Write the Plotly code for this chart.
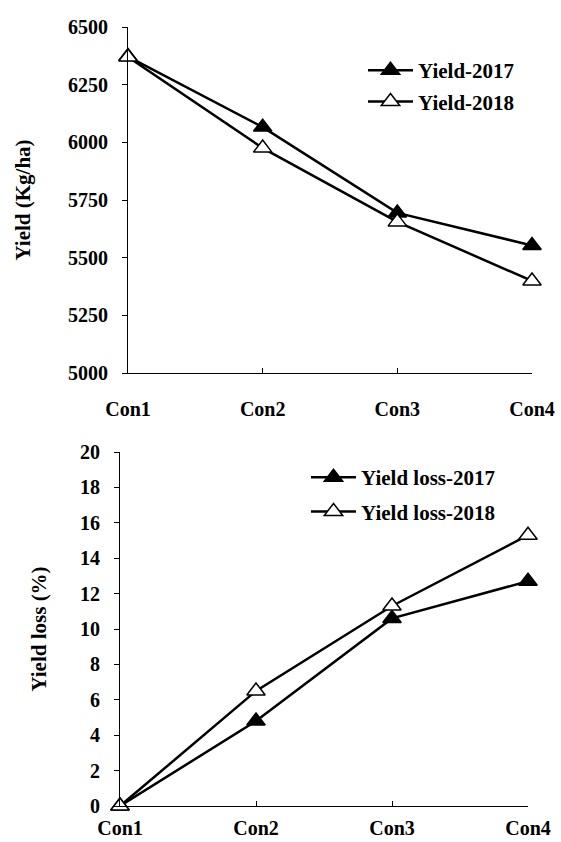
import plotly.graph_objects as go

categories = ["Con1", "Con2", "Con3", "Con4"]
yield_2017 = [6372, 6066, 5694, 5553]
yield_2018 = [6370, 5975, 5655, 5399]
loss_2017 = [0, 4.8, 10.6, 12.7]
loss_2018 = [0, 6.5, 11.3, 15.3]
yield_ticks = [5000, 5250, 5500, 5750, 6000, 6250, 6500]
loss_ticks = [0, 2, 4, 6, 8, 10, 12, 14, 16, 18, 20]

FONT = "Liberation Serif"
fig = go.Figure()

def add(x, y, name, filled, xa, ya, leg):
    fig.add_trace(go.Scatter(
        x=x, y=y, name=name, mode="lines+markers", xaxis=xa, yaxis=ya, legend=leg,
        legendgroup=name, cliponaxis=False,
        line=dict(color="black", width=2.5),
        marker=dict(symbol="triangle-up", size=16,
                    color="black" if filled else "white",
                    line=dict(color="black", width=1.5)),
    ))

add(categories, yield_2017, "Yield-2017", True, "x", "y", "legend")
add(categories, yield_2018, "Yield-2018", False, "x", "y", "legend")
add(categories, loss_2017, "Yield loss-2017", True, "x2", "y2", "legend2")
add(categories, loss_2018, "Yield loss-2018", False, "x2", "y2", "legend2")

tickfont = dict(family=FONT, size=20, color="black", weight="bold")
titlefont = dict(family=FONT, size=21, color="black", weight="bold")
xcommon = dict(type="category", range=[0, 3], showline=True, linecolor="black", linewidth=1,
               ticks="inside", ticklen=5, tickcolor="black", tickfont=tickfont,
               showgrid=False, zeroline=False, automargin=False)
ycommon = dict(showline=True, linecolor="black", linewidth=1, ticks="outside", ticklen=5,
               tickcolor="black", tickfont=tickfont, showgrid=False, zeroline=False,
               automargin=False, ticklabelstandoff=10)

fig.update_layout(
    width=561, height=842,
    margin=dict(l=0, r=0, t=0, b=0, autoexpand=False),
    paper_bgcolor="white", plot_bgcolor="white",
    font=dict(family=FONT, color="black"),
    xaxis=dict(domain=[128/561, 532/561], anchor="y", ticklabelstandoff=18, **xcommon),
    yaxis=dict(domain=[1-373/842, 1-27/842], anchor="x", range=[5000, 6500],
               tickvals=yield_ticks,
               title=dict(text="Yield (Kg/ha)", font=titlefont, standoff=31),
               **ycommon),
    xaxis2=dict(domain=[120/561, 528/561], anchor="y2", ticklabelstandoff=4, **xcommon),
    yaxis2=dict(domain=[1-806/842, 1-452/842], anchor="x2", range=[0, 20],
                tickvals=loss_ticks,
                title=dict(text="Yield loss (%)", font=titlefont, standoff=27),
                **ycommon),
    legend=dict(x=363/561, y=1-50/842, xanchor="left", yanchor="top",
                font=dict(family=FONT, size=21, weight="bold"), bgcolor="rgba(0,0,0,0)",
                tracegroupgap=1, itemwidth=45),
    legend2=dict(x=306/561, y=1-457/842, xanchor="left", yanchor="top",
                 font=dict(family=FONT, size=21, weight="bold"), bgcolor="rgba(0,0,0,0)",
                 tracegroupgap=4, itemwidth=45),
    showlegend=True,
)

fig.write_html("out.html", config={"displayModeBar": False},
               post_script="document.body.style.margin='0';")
